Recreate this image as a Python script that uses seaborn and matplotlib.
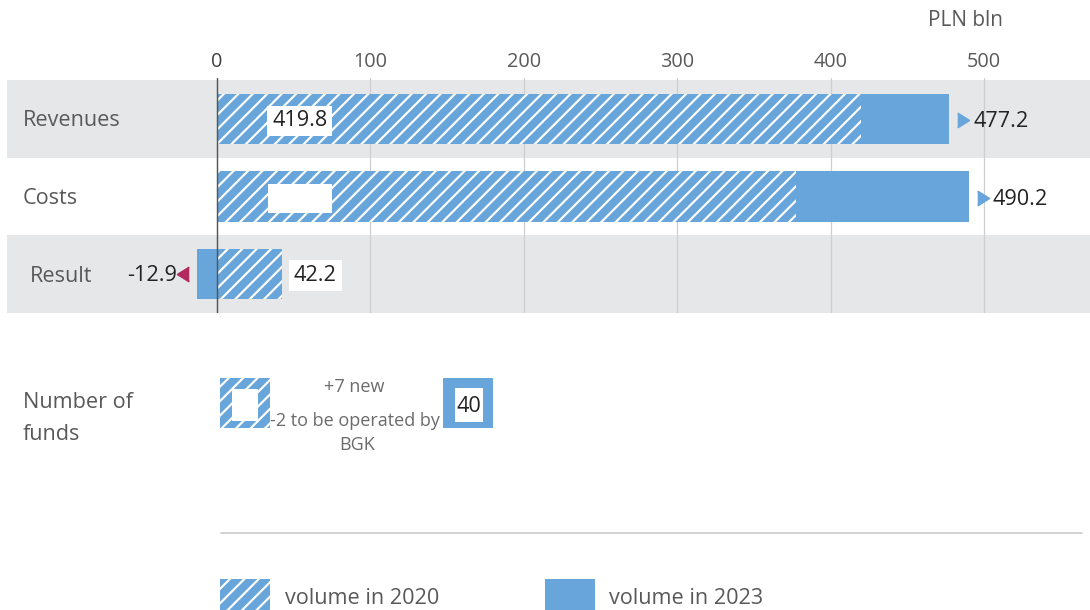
import matplotlib
matplotlib.use("Agg")
import matplotlib.pyplot as plt
import matplotlib.transforms as mtransforms
from matplotlib.patches import Rectangle
import seaborn as sns

# ---- data -------------------------------------------------------------
categories = ["Revenues", "Costs", "Result"]
volume_2020 = [419.8, 377.4, 42.2]
volume_2023 = [477.2, 490.2, -12.9]
labels_2020 = ["419.8", "", "42.2"]
labels_2023 = ["477.2", "490.2", "-12.9"]
x_ticks = [0, 100, 200, 300, 400, 500]
funds_2023 = 40
funds_notes = ["+7 new", "-2 to be operated by", "BGK"]
funds_title = ["Number of", "funds"]
legend_labels = ["volume in 2020", "volume in 2023"]
unit_label = "PLN bln"

# ---- style ------------------------------------------------------------
sns.set_theme(style="white")
plt.rcParams["font.family"] = ["Open Sans", "DejaVu Sans"]
plt.rcParams["hatch.linewidth"] = 1.2

BLUE = "#68a5da"
BAND = "#e6e7e8"
GRID = "#cfcfcf"
TEXT = "#595959"
VALUE = "#222222"
MAGENTA = "#b32a5e"
HATCH = "///"

DPI = 130
W, H = 1090, 610
fig = plt.figure(figsize=(W / DPI, H / DPI), dpi=DPI)
fig.patch.set_facecolor("white")

# ---- main bar axes ----------------------------------------------------
ax_left, ax_right, ax_top, ax_bottom = 7, 1090, 78, 313
ax = fig.add_axes([ax_left / W, 1 - ax_bottom / H,
                   (ax_right - ax_left) / W, (ax_bottom - ax_top) / H])

zero_px, px_per_unit = 217, 1.534
ax.set_xlim((ax_left - zero_px) / px_per_unit, (ax_right - zero_px) / px_per_unit)

sns.barplot(x=volume_2023, y=categories, orient="h", color=BLUE, saturation=1,
            width=0.65, errorbar=None, ax=ax, zorder=2, linewidth=0)
n_first = len(ax.patches)
sns.barplot(x=volume_2020, y=categories, orient="h", color=BLUE, saturation=1,
            width=0.65, errorbar=None, ax=ax, zorder=3, linewidth=0)
for p in ax.patches[n_first:]:
    p.set_hatch(HATCH)
    p.set_edgecolor("white")
    p.set_linewidth(0)

row_px = 77.7
ax.set_ylim(2.5, -0.5 - 2.2 / row_px)

# alternating row bands
for i in range(len(categories)):
    if i % 2 == 0:
        ax.axhspan(i - 0.5, i + 0.5, color=BAND, zorder=0, lw=0)

for t in x_ticks[1:]:
    ax.axvline(t, color=GRID, lw=0.7, zorder=1)
ax.axvline(0, color="#555555", lw=0.8, zorder=4)

for s in ax.spines.values():
    s.set_visible(False)
ax.set_xlabel("")
ax.set_ylabel("")
ax.set_yticks([])
ax.xaxis.tick_top()
ax.set_xticks(x_ticks)
ax.set_xticklabels([str(t) for t in x_ticks])
ax.tick_params(axis="x", length=0, pad=3.5, labelsize=11, labelcolor=TEXT)
ax.get_xticklabels()[0].set_color("#404040")
ax.set_facecolor("none")


def shifted(dx_px, dy_px=0):
    return mtransforms.offset_copy(ax.transData, fig=fig, x=dx_px, y=dy_px, units="dots")


tri_right = [(-0.8, 1), (0.8, 0), (-0.8, -1)]
tri_left = [(0.8, 1), (-0.8, 0), (0.8, -1)]

# 2023 value labels with arrow markers
for i, (v, lab) in enumerate(zip(volume_2023, labels_2023)):
    if v >= 0:
        ax.plot([v], [i], marker=tri_right, ms=8, color=BLUE, ls="none",
                transform=shifted(14, -1), zorder=5, clip_on=False)
        ax.text(v, i, lab, transform=shifted(24, -3), ha="left", va="center",
                fontsize=12, color=VALUE, zorder=5)
    else:
        ax.plot([v], [i], marker=tri_left, ms=8, color=MAGENTA, ls="none",
                transform=shifted(-14), zorder=5, clip_on=False)
        ax.text(v, i, lab, transform=shifted(-20, -1), ha="right", va="center",
                fontsize=12, color=VALUE, zorder=5)

# 2020 value labels in white boxes
inside_x = 54
box_style = dict(facecolor="white", edgecolor="none", pad=2.8)
for i, (v, lab) in enumerate(zip(volume_2020, labels_2020)):
    if v > 100:
        if lab:
            ax.text(inside_x, i, lab, transform=shifted(0, -2), ha="center",
                    va="center", fontsize=12, color=VALUE, zorder=6, bbox=box_style)
        else:
            ax.add_patch(Rectangle((33.2, i - 0.16), 41.8, 0.37,
                                   facecolor="white", edgecolor="none", zorder=6))
    else:
        ax.text(v, i, lab, transform=shifted(12, -1), ha="left", va="center",
                fontsize=12, color=VALUE, zorder=6, bbox=box_style)

# ---- overlay in pixel coordinates for labels, funds row and legend ----
ov = fig.add_axes([0, 0, 1, 1])
ov.set_xlim(0, W)
ov.set_ylim(H, 0)
ov.axis("off")

ov.text(966, 20, unit_label, ha="center", va="center", fontsize=11.5, color=TEXT)

cat_x = [23, 23, 30]
for i, (name, x) in enumerate(zip(categories, cat_x)):
    ov.text(x, 121 + row_px * i, name, ha="left", va="center", fontsize=12, color=TEXT)

ov.text(23, 402, funds_title[0], ha="left", va="center", fontsize=12, color=TEXT)
ov.text(23, 434, funds_title[1], ha="left", va="center", fontsize=12, color=TEXT)

ov.add_patch(Rectangle((220, 378), 50, 50, facecolor=BLUE, edgecolor="white",
                       hatch=HATCH, lw=0))
ov.add_patch(Rectangle((232, 389), 26, 32, facecolor="white", edgecolor="none"))
ov.add_patch(Rectangle((443, 378), 50, 50, facecolor=BLUE, edgecolor="none"))
ov.add_patch(Rectangle((455, 388), 28, 34, facecolor="white", edgecolor="none"))
ov.text(469, 407, str(funds_2023), ha="center", va="center", fontsize=12, color=VALUE)

ov.text(354, 387, funds_notes[0], ha="center", va="center", fontsize=10, color="#6b6b6b")
ov.text(355, 421, funds_notes[1], ha="center", va="center", fontsize=10, color="#6b6b6b")
ov.text(357, 445, funds_notes[2], ha="center", va="center", fontsize=10, color="#6b6b6b")

ov.plot([221, 1082], [533, 533], color="#d0d0d0", lw=1.0)

ov.add_patch(Rectangle((220, 579), 50, 40, facecolor=BLUE, edgecolor="white",
                       hatch=HATCH, lw=0))
ov.text(285, 599, legend_labels[0], ha="left", va="center", fontsize=12, color=TEXT)
ov.add_patch(Rectangle((545, 579), 50, 40, facecolor=BLUE, edgecolor="none"))
ov.text(609, 599, legend_labels[1], ha="left", va="center", fontsize=12, color=TEXT)

fig.savefig("out.png", dpi=DPI)
